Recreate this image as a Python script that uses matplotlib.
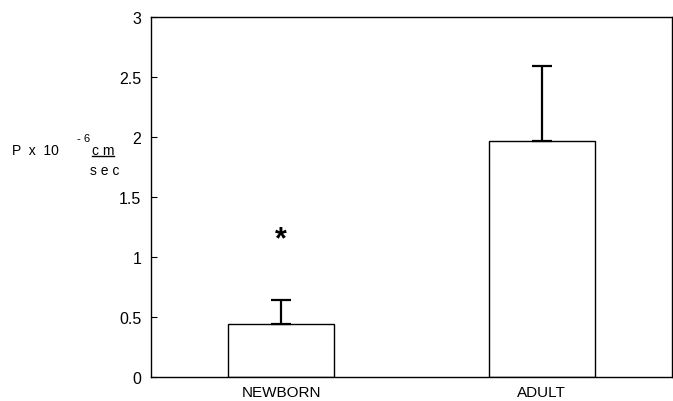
import matplotlib
matplotlib.use("Agg")
import matplotlib.pyplot as plt
from matplotlib.lines import Line2D

plt.rcParams['font.family'] = ['Liberation Sans', 'DejaVu Sans']

groups = ["NEWBORN", "ADULT"]
means = [0.44, 1.97]
errs_up = [0.20, 0.62]
star_y = 1.15
yticks = [0, 0.5, 1, 1.5, 2, 2.5, 3]
ytick_labels = ["0", "0.5", "1", "1.5", "2", "2.5", "3"]

W, H = 673, 402
fig = plt.figure(figsize=(W / 100, H / 100), dpi=100)
ax = fig.add_axes([151 / W, 1 - 378 / H, (672 - 151) / W, (378 - 18) / H])

x = range(len(groups))
ax.bar(x, means, width=0.405, color="white", edgecolor="black", linewidth=1.0)
ax.errorbar(x, means, yerr=[[0, 0], errs_up], fmt="none", ecolor="black",
            elinewidth=1.6, capsize=7, capthick=1.6)
ax.text(0, star_y, "*", ha="center", va="center", fontsize=22, fontweight="bold")

ax.set_xlim(-0.5, 1.5)
ax.set_ylim(0, 3)
ax.set_yticks(yticks)
ax.set_yticklabels(ytick_labels)
ax.set_xticks(list(x))
ax.set_xticklabels(groups)
ax.tick_params(axis="y", direction="in", length=4, labelsize=11.5, pad=7)
ax.tick_params(axis="x", length=0, labelsize=11, pad=6)
for s in ax.spines.values():
    s.set_linewidth(1.0)

# y axis label: P x 10^-6 cm/sec
fs = 10
fig.text(12 / W, 1 - 151 / H, "P  x  10", fontsize=fs, va="center", ha="left")
fig.text(77 / W, 1 - 139 / H, "- 6", fontsize=8, va="center", ha="left")
fig.text(92 / W, 1 - 151 / H, "c m", fontsize=fs, va="center", ha="left")
fig.add_artist(Line2D([92 / W, 114 / W], [1 - 157 / H, 1 - 157 / H],
                      color="black", linewidth=1.0))
fig.text(90 / W, 1 - 171 / H, "s e c", fontsize=fs, va="center", ha="left")

fig.savefig("out.png", dpi=100)
